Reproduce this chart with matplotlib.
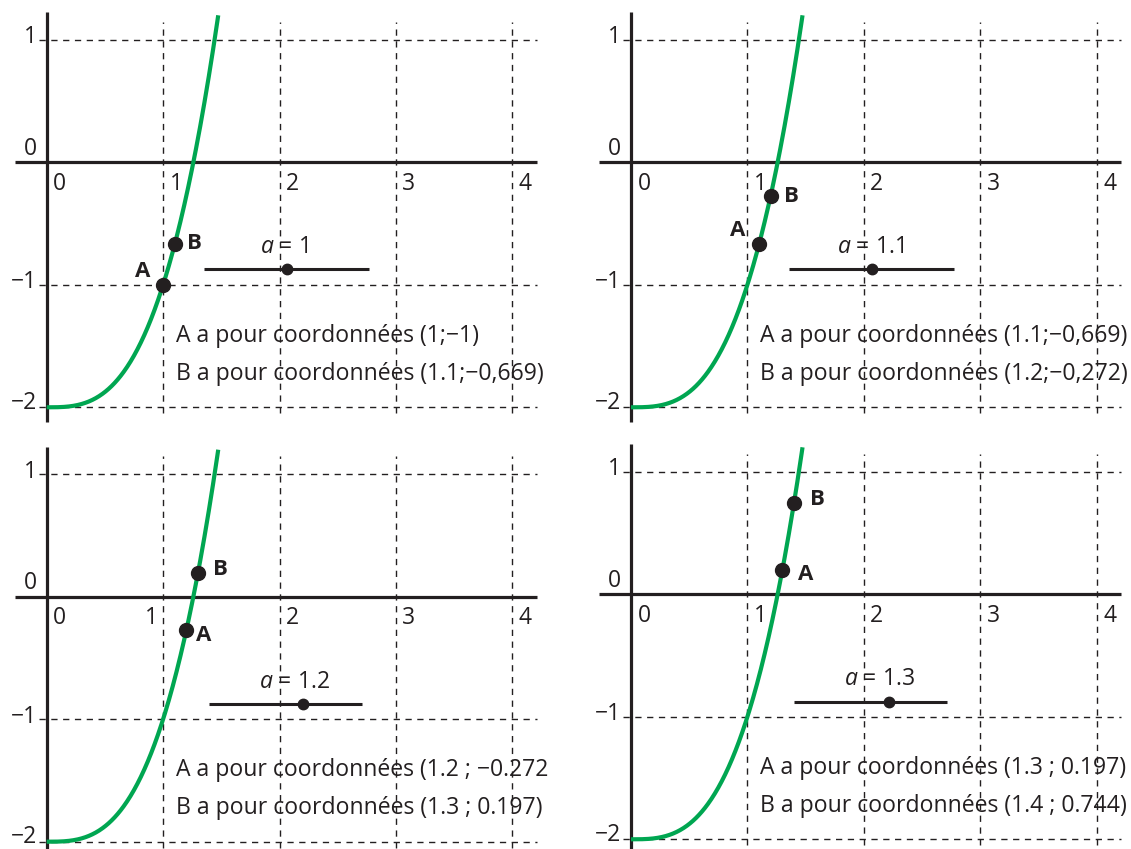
import numpy as np
import matplotlib
matplotlib.use("Agg")
import matplotlib.pyplot as plt

# ---- content -------------------------------------------------------------
a_values = ["1", "1.1", "1.2", "1.3"]

point_A_x = [1.0, 1.1, 1.2, 1.3]
point_A_y = [-1.0, -0.669, -0.272, 0.197]
point_B_x = [1.1, 1.2, 1.3, 1.4]
point_B_y = [-0.669, -0.272, 0.197, 0.744]

line_A_text = [
    "A a pour coordonnées (1;\u22121)",
    "A a pour coordonnées (1.1;\u22120,669)",
    "A a pour coordonnées (1.2 ; \u22120.272",
    "A a pour coordonnées (1.3 ; 0.197)",
]
line_B_text = [
    "B a pour coordonnées (1.1;\u22120,669)",
    "B a pour coordonnées (1.2;\u22120,272)",
    "B a pour coordonnées (1.3 ; 0.197)",
    "B a pour coordonnées (1.4 ; 0.744)",
]

x_ticks = [0, 1, 2, 3, 4]
x_tick_labels = ["0", "1", "2", "3", "4"]
y_ticks = [1, 0, -1, -2]
y_tick_labels = ["1", "0", "\u22121", "\u22122"]

curve_top = 1.2  # the curve is drawn up to this height


def f(x):
    """Function whose graph is shown: f(x) = x^3 - 2."""
    return x ** 3 - 2


# ---- layout ----------------------------------------------------------------
W, H = 1131, 849
UX, UY = 116.4, 122.5          # pixels per unit on each axis
QW, QH = W / 2, H / 2

# panel origin (pixels from the top-left corner of the figure)
origins = [(46.7, 162.3), (631.0, 162.3), (46.7, 596.7), (631.0, 594.3)]
quadrants = [(0, 0), (QW, 0), (0, QH), (QW, QH)]

# slider bar: start, end, knob position, height
slider_geo = [
    (1.351, 2.769, 2.064, -0.871),
    (1.360, 2.775, 2.070, -0.873),
    (1.397, 2.706, 2.204, -0.876),
    (1.400, 2.712, 2.213, -0.877),
]
slider_label_x = [2.039, 2.058, 2.129, 2.135]

# label offsets (pixels, right/down positive) for A and B
A_offsets = [(-20.6, -13.3), (-21.5, -13.8), (17.5, 5.5), (23.5, 4.3)]
B_offsets = [(20.0, -0.8), (21.0, 0.4), (22.5, -3.0), (23.0, -3.2)]

INK = "#231F20"
GREEN = "#00A651"
FONT = ["Open Sans", "DejaVu Sans"]

plt.rcParams["font.family"] = FONT
plt.rcParams["mathtext.fontset"] = "custom"
plt.rcParams["mathtext.rm"] = "Open Sans"
plt.rcParams["mathtext.it"] = "Open Sans:italic"

TXT = 16.6
TICK = 16.5
LBL = 16.0

fig = plt.figure(figsize=(W / 100, H / 100), dpi=100)

for i in range(4):
    ox, oy = origins[i]
    qx, qy = quadrants[i]
    ax = fig.add_axes([qx / W, (H - qy - QH) / H, QW / W, QH / H])
    ax.set_xlim((qx - ox) / UX, (qx + QW - ox) / UX)
    ax.set_ylim((oy - (qy + QH)) / UY, (oy - qy) / UY)
    ax.axis("off")

    # dashed grid
    for xv in x_ticks[1:]:
        ax.plot([xv, xv], [-2.05, 1.145], color=INK, lw=1.0,
                dashes=(4.5, 4), clip_on=False, zorder=1)
    for yv in [1, -1, -2]:
        ax.plot([-0.07, 4.21], [yv, yv], color=INK, lw=1.0,
                dashes=(4.5, 4), clip_on=False, zorder=1)

    # coordinate axes
    ax.plot([-0.272, 4.21], [0, 0], color=INK, lw=2.3,
            solid_capstyle="butt", clip_on=False, zorder=2)
    ax.plot([0, 0], [-2.12, 1.225], color=INK, lw=2.3,
            solid_capstyle="butt", clip_on=False, zorder=2)

    # tick labels
    for xv, lab in zip(x_ticks, x_tick_labels):
        xpos = xv + 0.055
        if i == 2 and xv == 1:
            xpos = 0.84
        ax.text(xpos, -0.225, lab, fontsize=TICK, color=INK,
                ha="left", va="baseline")
    for yv, lab in zip(y_ticks, y_tick_labels):
        if yv == 0:
            ypos = 0.06
        elif yv == -2:
            ypos = -2.01
        else:
            ypos = yv - 0.03
        ax.text(-0.085, ypos, lab, fontsize=TICK, color=INK,
                ha="right", va="baseline")

    # curve
    x_end = (curve_top + 2) ** (1 / 3)
    xs = np.linspace(0, x_end, 400)
    ax.plot(xs, f(xs), color=GREEN, lw=3.0, solid_capstyle="butt",
            clip_on=False, zorder=3)

    # points A and B
    for px, py, lab, off in [(point_A_x[i], point_A_y[i], "A", A_offsets[i]),
                             (point_B_x[i], point_B_y[i], "B", B_offsets[i])]:
        ax.plot([px], [py], "o", ms=10, color=INK, zorder=4, clip_on=False)
        ax.annotate(lab, (px, py), xytext=(off[0] * 0.72, -off[1] * 0.72),
                    textcoords="offset points", ha="center", va="center",
                    fontsize=LBL, fontweight="bold", color=INK)

    # slider for the parameter a
    s0, s1, knob, sy = slider_geo[i]
    ax.plot([s0, s1], [sy, sy], color=INK, lw=2.2, solid_capstyle="butt",
            zorder=3)
    ax.plot([knob], [sy], "o", ms=7.5, color=INK, zorder=4)
    ax.text(slider_label_x[i], sy + 0.134, r"$a$ = " + a_values[i],
            fontsize=TXT, color=INK, ha="center", va="baseline")

    # coordinates read-out
    ax.text(1.11, -1.467, line_A_text[i], fontsize=TXT, color=INK,
            ha="left", va="baseline")
    ax.text(1.11, -1.775, line_B_text[i], fontsize=TXT, color=INK,
            ha="left", va="baseline")

fig.savefig("out.png", dpi=100, facecolor="white")
